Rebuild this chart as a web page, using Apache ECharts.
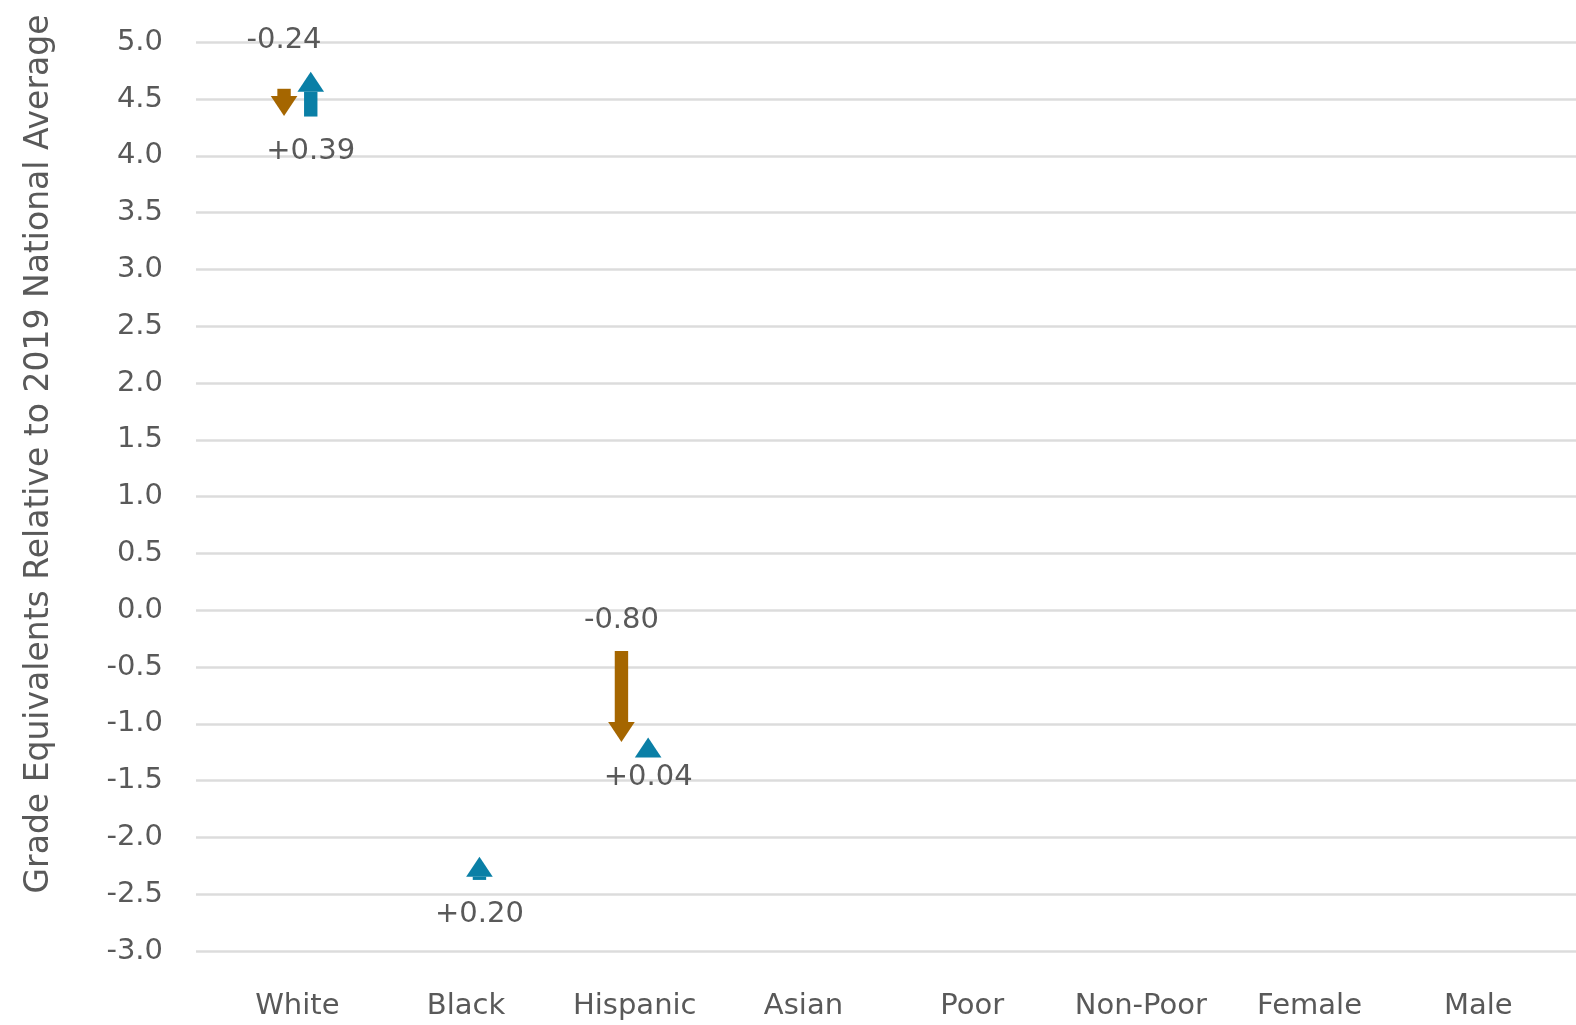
<!DOCTYPE html>
<html>
<head>
<meta charset="utf-8">
<script src="https://cdn.jsdelivr.net/npm/echarts@6/dist/echarts.min.js"></script>
<style>
html,body{margin:0;padding:0;background:#fff;}
#chart{width:1576px;height:1025px;}
</style>
</head>
<body>
<div id="chart"></div>
<script>
// ---- data ----
const categories = ['White', 'Black', 'Hispanic', 'Asian', 'Poor', 'Non-Poor', 'Female', 'Male'];
// starting level (grade equivalents relative to 2019 national average)
const startValues = [4.59, -2.37, -0.36, null, null, null, null, null];
// first change (brown, decline)
const declines = [-0.24, null, -0.80, null, null, null, null, null];
// second change (blue, recovery)
const recoveries = [0.39, 0.20, 0.04, null, null, null, null, null];
const yTicks = { min: -3, max: 5, interval: 0.5 };

const BROWN = '#A56600';
const BLUE = '#0A7FA6';
const TEXT = '#595959';
const FONT = 'DejaVu Sans';
const FS = 29;
const TITLE_FS = 33;

const GRID_TOP = 42.2, GRID_BOTTOM = 74;

function fmt(v) { return (v > 0 ? '+' : '') + v.toFixed(2); }

const brownData = [], blueData = [];
categories.forEach((c, i) => {
  const s = startValues[i];
  if (s == null) return;
  const d = declines[i] || 0;
  if (declines[i] != null) brownData.push([i, s, s + d, declines[i]]);
  if (recoveries[i] != null) blueData.push([i, s + d, s + d + recoveries[i], recoveries[i]]);
});

function groupExtent(i) {
  const s = startValues[i];
  const d = declines[i] || 0;
  const r = recoveries[i] || 0;
  const pts = [s, s + d, s + d + r];
  return [Math.min.apply(null, pts), Math.max.apply(null, pts)];
}

function makeRender(color, offset, labelAbove) {
  return function (params, api) {
    const i = api.value(0);
    const from = api.value(1);
    const to = api.value(2);
    const change = api.value(3);
    const p0 = api.coord([i, from]);
    const p1 = api.coord([i, to]);
    const x = p0[0] + offset;
    const shaftW = 13.4, headW = 26.6, headL = 20;
    const dir = p1[1] > p0[1] ? 1 : -1;
    const len = Math.abs(p1[1] - p0[1]);
    const tipY = p1[1];
    const baseY = tipY - dir * headL;
    const children = [];
    if (len > headL) {
      children.push({
        type: 'rect',
        shape: { x: x - shaftW / 2, y: Math.min(p0[1], baseY), width: shaftW, height: Math.abs(baseY - p0[1]) + 0.5 },
        style: { fill: color }
      });
    }
    children.push({
      type: 'polygon',
      shape: { points: [[x - headW / 2, baseY], [x + headW / 2, baseY], [x, tipY]] },
      style: { fill: color }
    });
    const ext = groupExtent(i);
    const yLab = labelAbove ? api.coord([i, ext[1]])[1] - 31 : api.coord([i, ext[0]])[1] + 35;
    children.push({
      type: 'text',
      x: x, y: yLab,
      style: { text: fmt(change), fill: TEXT, font: FS + 'px "' + FONT + '"', align: 'center', verticalAlign: 'middle' }
    });
    return { type: 'group', children: children };
  };
}

const chart = echarts.init(document.getElementById('chart'), null, { renderer: 'canvas' });
chart.setOption({
  animation: false,
  backgroundColor: '#fff',
  textStyle: { fontFamily: FONT },
  grid: [
    { left: 196, right: 0, top: GRID_TOP, bottom: GRID_BOTTOM },
    { left: 213, right: 13.4, top: GRID_TOP, bottom: GRID_BOTTOM }
  ],
  xAxis: [
    { gridIndex: 0, type: 'value', min: 0, max: 1, show: false },
    {
      gridIndex: 1, type: 'category', data: categories, boundaryGap: true,
      axisLine: { show: false }, axisTick: { show: false },
      axisLabel: { color: TEXT, fontSize: FS, fontFamily: FONT, margin: 41, interval: 0 }
    }
  ],
  yAxis: [
    {
      gridIndex: 0, type: 'value', min: yTicks.min, max: yTicks.max, interval: yTicks.interval,
      axisLine: { show: false }, axisTick: { show: false },
      axisLabel: { color: TEXT, fontSize: FS, fontFamily: FONT, margin: 33, padding: [4, 0, 0, 0], formatter: v => v.toFixed(1) },
      splitLine: { lineStyle: { color: '#dcdcdc', width: 2.5 } }
    },
    {
      gridIndex: 1, type: 'value', min: yTicks.min, max: yTicks.max, interval: yTicks.interval,
      show: false, splitLine: { show: false }
    }
  ],
  graphic: [{
    type: 'text',
    x: 39, y: 454,
    rotation: Math.PI / 2,
    style: {
      text: 'Grade Equivalents Relative to 2019 National Average',
      fill: TEXT, font: TITLE_FS + 'px "' + FONT + '"', align: 'center', verticalAlign: 'middle'
    }
  }],
  series: [
    {
      type: 'custom', xAxisIndex: 1, yAxisIndex: 1,
      renderItem: makeRender(BROWN, -13.3, true),
      data: brownData, clip: false
    },
    {
      type: 'custom', xAxisIndex: 1, yAxisIndex: 1,
      renderItem: makeRender(BLUE, 13.4, false),
      data: blueData, clip: false
    }
  ]
});
</script>
</body>
</html>
